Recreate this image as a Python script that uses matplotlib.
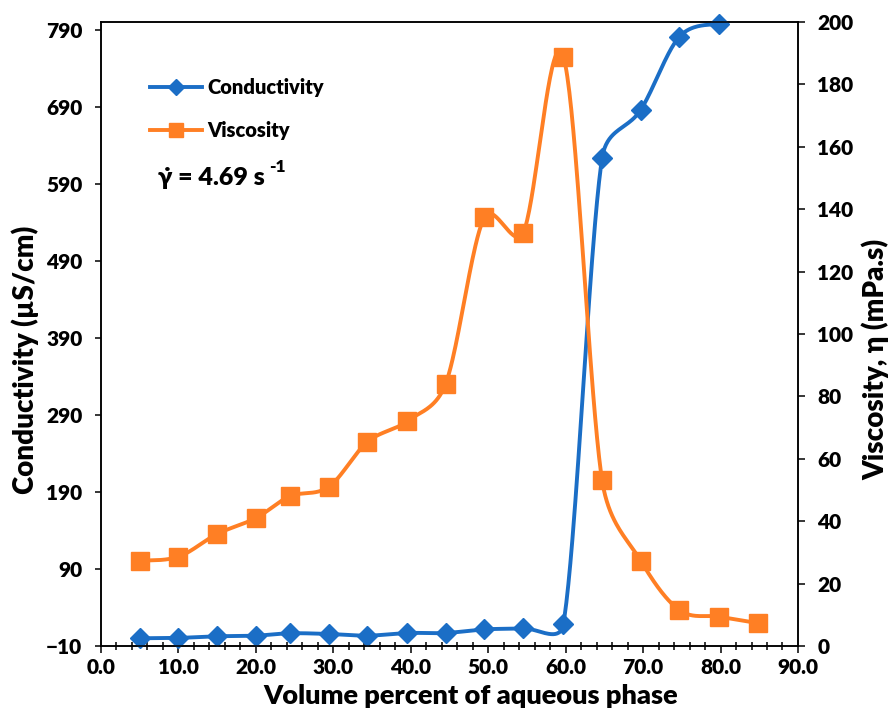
import numpy as np
import matplotlib
matplotlib.use("Agg")
import matplotlib.pyplot as plt
from matplotlib.lines import Line2D
from matplotlib.ticker import MultipleLocator

plt.rcParams['font.family'] = ['Lato', 'DejaVu Sans']
plt.rcParams['font.weight'] = 'heavy'
plt.rcParams['axes.labelweight'] = 'heavy'

# values
volume = [5, 10, 15, 20, 24.4, 29.4, 34.4, 39.5, 44.5, 49.5, 54.5, 59.7,
          64.7, 69.7, 74.7, 79.8, 84.9]
conductivity = [0, 0.5, 2.6, 3.4, 6.5, 5.6, 3.4, 6.9, 6.9, 11.6, 13, 18,
                623, 686, 781, 798]          # no reading at 84.9
viscosity = [27.3, 28.6, 35.9, 41, 48, 51, 65.4, 72, 84, 137.4, 132.3, 188.9,
             53.2, 27.3, 11.5, 9.4, 7.3]

x_ticks = np.arange(0, 91, 10)
cond_ticks = np.arange(-10, 791, 100)
visc_ticks = np.arange(0, 201, 20)

blue = '#1B6EC6'
orange = '#FF7F24'


def smooth_curve(ax, xs, ys, steps=40):
    # excel-like smoothed line (bezier through the points, done in pixel space)
    pts = ax.transData.transform(np.column_stack([xs, ys]))
    n = len(pts)
    out = [pts[0]]
    t = np.linspace(0, 1, steps)[1:, None]
    for i in range(n - 1):
        p0 = pts[i - 1] if i > 0 else pts[i]
        p1 = pts[i]
        p2 = pts[i + 1]
        p3 = pts[i + 2] if i + 2 < n else pts[i + 1]
        seg = np.hypot(*(p2 - p1))
        d1 = (p2 - p0) / 6
        d2 = (p3 - p1) / 6
        l1 = np.hypot(*d1)
        l2 = np.hypot(*d2)
        if l1 > seg / 2:
            d1 = d1 * (seg / 2) / l1
        if l2 > seg / 2:
            d2 = d2 * (seg / 2) / l2
        c1 = p1 + d1
        c2 = p2 - d2
        out.extend((1 - t) ** 3 * p1 + 3 * (1 - t) ** 2 * t * c1
                   + 3 * (1 - t) * t ** 2 * c2 + t ** 3 * p2)
    out = ax.transData.inverted().transform(np.array(out))
    return out[:, 0], out[:, 1]


fig = plt.figure(figsize=(8.89, 7.26), dpi=100)
ax = fig.add_axes([0.1136, 0.1102, 0.7840, 0.8595])
ax2 = ax.twinx()

ax.set_xlim(0, 90)
ax.set_ylim(-10, 800)
ax2.set_ylim(0, 200)

ax.set_xticks(x_ticks)
ax.set_xticklabels(['%.1f' % v for v in x_ticks])
ax.xaxis.set_minor_locator(MultipleLocator(2))
ax.set_yticks(cond_ticks)
ax2.set_yticks(visc_ticks)

ax.tick_params(axis='x', which='major', direction='out', length=5, width=1.1,
               labelsize=15, pad=4)
ax.tick_params(axis='x', which='minor', direction='inout', length=5.5, width=1.1)
ax.tick_params(axis='y', direction='out', length=4.5, width=1.1, labelsize=15, pad=9)
ax2.tick_params(axis='y', direction='out', length=5, width=1.1, labelsize=15, pad=9)

for a in (ax, ax2):
    for sp in a.spines.values():
        sp.set_linewidth(1.1)

# lines
xc, yc = smooth_curve(ax, volume[:len(conductivity)], conductivity)
ax.plot(xc, yc, color=blue, lw=2.8, solid_capstyle='round', zorder=3)
ax.plot(volume[:len(conductivity)], conductivity, 'D', color=blue, ms=10,
        zorder=4, clip_on=False)

xv, yv = smooth_curve(ax2, volume, viscosity)
ax2.plot(xv, yv, color=orange, lw=2.8, solid_capstyle='round', zorder=3)
ax2.plot(volume, viscosity, 's', color=orange, ms=13, zorder=4, clip_on=False)

ax.set_xlabel('Volume percent of aqueous phase', fontsize=19.5, labelpad=5)
ax.xaxis.label.set_x(0.531)
ax.set_ylabel('Conductivity (µS/cm)', fontsize=20, labelpad=5)
ax.yaxis.label.set_y(0.458)
ax2.set_ylabel('Viscosity, η (mPa.s)', fontsize=20, labelpad=6)
ax2.yaxis.label.set_y(0.46)

handles = [
    Line2D([], [], color=blue, lw=2.8, marker='D', ms=8),
    Line2D([], [], color=orange, lw=2.8, marker='s', ms=10),
]
ax2.legend(handles, ['Conductivity', 'Viscosity'], loc='upper left',
           bbox_to_anchor=(0.07, 0.91), frameon=False, fontsize=14.5,
           handlelength=2.6, handletextpad=0.25, labelspacing=1.2,
           borderpad=0, borderaxespad=0)

gamma = ax2.text(0.082, 0.739, 'γ\u0307 = 4.69 s', transform=ax2.transAxes,
                 fontsize=18, ha='left', va='baseline')
ax2.annotate('-1', xy=(1, 0), xycoords=gamma, xytext=(3, 12),
             textcoords='offset points', fontsize=12.5, ha='left', va='baseline')

fig.savefig('out.png', dpi=100)
